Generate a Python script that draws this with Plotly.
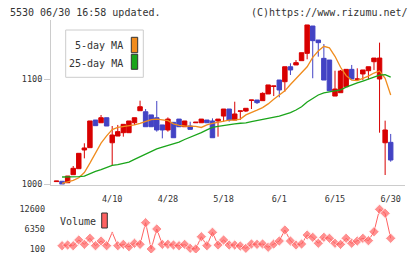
import plotly.graph_objects as go

# ---------------- data ----------------
idx = list(range(61))
tick_idx = [10, 20, 30, 40, 50, 60]
tick_labels = ["4/10", "4/28", "5/18", "6/1", "6/15", "6/30"]

opens = [1002.3, 1002.6, 1001.2, 1008.9, 1014.6, 1032.5, 1034.7, 1061.1, 1058.5, 1063.3,
         1039.4, 1045.8, 1049.0, 1049.0, 1058.5, 1070.0, 1069.0, 1066.0, 1063.3, 1056.4,
         1051.6, 1058.9, 1062.0, 1054.7, 1055.4, 1058.5, 1058.5, 1061.1, 1060.2, 1060.2,
         1064.9, 1071.6, 1061.1, 1069.4, 1069.7, 1079.8, 1080.2, 1079.6, 1086.0, 1093.2,
         1099.3, 1097.7, 1112.0, 1113.7, 1117.8, 1124.8, 1150.9, 1137.5, 1120.0, 1118.4,
         1084.0, 1087.2, 1092.9, 1109.5, 1099.9, 1105.1, 1108.2, 1116.8, 1100.3, 1039.4,
         1039.8]
highs = [1002.8, 1002.6, 1007.6, 1017.2, 1029.3, 1038.9, 1060.2, 1061.1, 1065.9, 1063.3,
         1055.4, 1056.4, 1057.0, 1060.2, 1063.3, 1079.6, 1071.6, 1066.0, 1079.3, 1056.4,
         1063.6, 1058.9, 1062.0, 1060.2, 1059.5, 1059.0, 1062.0, 1061.1, 1062.7, 1062.0,
         1071.6, 1071.6, 1078.6, 1069.8, 1072.3, 1080.2, 1080.2, 1087.5, 1094.6, 1093.6,
         1099.3, 1112.0, 1115.3, 1118.4, 1125.4, 1151.9, 1150.9, 1137.5, 1133.7, 1118.4,
         1108.2, 1108.9, 1109.5, 1113.7, 1110.5, 1108.9, 1112.0, 1120.3, 1135.0, 1060.5,
         1047.8]
lows = [1002.3, 999.7, 1001.2, 1008.9, 1014.6, 1024.5, 1034.7, 1055.7, 1058.5, 1055.4,
        1017.2, 1045.8, 1045.2, 1049.0, 1056.4, 1070.0, 1054.7, 1054.7, 1050.0, 1043.6,
        1050.0, 1044.2, 1054.7, 1054.7, 1052.2, 1058.5, 1058.5, 1058.5, 1044.2, 1045.2,
        1059.5, 1059.5, 1061.1, 1061.1, 1068.8, 1071.6, 1076.4, 1079.6, 1086.0, 1084.0,
        1082.8, 1088.2, 1104.1, 1113.7, 1117.8, 1119.1, 1101.0, 1121.6, 1099.3, 1089.1,
        1084.0, 1087.2, 1092.9, 1100.3, 1099.9, 1099.3, 1100.0, 1108.9, 1049.0, 1008.6,
        1021.3]
closes = [1002.8, 999.7, 1007.6, 1015.0, 1029.3, 1034.4, 1060.2, 1055.7, 1063.3, 1055.4,
          1046.8, 1050.0, 1057.0, 1060.2, 1063.3, 1073.8, 1054.7, 1054.7, 1051.6, 1051.6,
          1062.0, 1044.2, 1054.7, 1060.2, 1052.2, 1059.0, 1062.0, 1058.5, 1044.2, 1062.0,
          1071.6, 1061.1, 1066.9, 1069.8, 1072.3, 1080.2, 1077.7, 1086.6, 1094.6, 1093.6,
          1089.8, 1112.0, 1108.9, 1115.9, 1125.4, 1151.9, 1136.9, 1135.0, 1099.3, 1089.1,
          1090.7, 1107.9, 1109.5, 1100.3, 1100.3, 1108.9, 1112.0, 1120.3, 1120.3, 1051.6,
          1022.9]

ma5 = [None, 1000.5, 1002.0, 1003.5, 1006.0, 1011.0, 1020.0, 1030.0, 1039.0, 1046.0,
       1052.0, 1054.0, 1054.7, 1055.2, 1056.5, 1058.0, 1060.0, 1061.5, 1062.0, 1061.5,
       1060.5, 1057.5, 1056.0, 1055.4, 1055.4, 1055.0, 1054.0, 1056.4, 1058.0, 1059.0,
       1060.5, 1061.0, 1061.0, 1062.0, 1066.0, 1068.0, 1070.5, 1073.0, 1076.5, 1081.0,
       1085.0, 1089.0, 1095.0, 1100.5, 1105.5, 1112.0, 1121.0, 1127.0, 1131.5, 1130.0,
       1122.0, 1111.5, 1103.5, 1099.3, 1098.8, 1100.8, 1103.0, 1106.0, 1108.0, 1101.0,
       1085.0]
ma25 = [None, 1006.7, 1006.7, 1006.7, 1007.0, 1007.5, 1010.0, 1012.0, 1013.8, 1016.0,
        1017.8, 1018.6, 1019.6, 1021.0, 1023.5, 1026.0, 1028.8, 1031.3, 1033.5, 1035.2,
        1036.7, 1038.2, 1040.0, 1042.5, 1044.6, 1046.6, 1049.0, 1051.7, 1054.0, 1055.0,
        1056.0, 1057.0, 1057.5, 1058.0, 1058.3, 1059.5, 1060.5, 1061.3, 1062.5, 1063.6,
        1064.9, 1066.5, 1068.1, 1070.7, 1073.8, 1078.3, 1081.5, 1085.0, 1087.0, 1088.1,
        1089.0, 1090.0, 1092.6, 1094.8, 1096.5, 1098.3, 1100.3, 1102.2, 1104.0, 1104.4,
        1102.0]

volume = [None, 1140, 1360, 1140, 2930, 1560, 3470, 1140, 2620, 1140,
          5360, 1140, 1560, 820, 1900, 1560, 8380, 100, 6400, 1560,
          1560, 1360, 1140, 1560, 320, 100, 3970, 1140, 5360, 1360,
          2930, 1360, 1360, 1045, 320, 1670, 1560, 1670, 640, 1670,
          2620, 6080, 2620, 1360, 1670, 4510, 3780, 1900, 3780, 3470,
          1900, 1560, 3470, 1900, 2620, 3470, 2720, 5550, 12600, 11340,
          3470]
vol_ticks = [100, 6350, 12600]
vol_tick_labels = ["100", "6350", "12600"]
price_ticks = [1000, 1100]

# ---------------- styling ----------------
W, H = 420, 259
FONT = "DejaVu Sans Mono"
TXT = "#333333"
GRAY = "#cccccc"
RED = "#d80000"
BLUE = "#4343c4"
ORANGE = "#f08c1e"
GREEN = "#1aa51a"
VOLC = "#ff6262"


def px(x):
    return x / W


def py(y):
    return 1 - y / H


# pixel geometry
X0, X1 = 51, 405
C0, STEP = 56.5, 5.57
xr = [(X0 - C0) / STEP, (X1 - C0) / STEP]
MAIN_TOP, MAIN_BOT = 20, 184.5
PPY = 1.047  # pixels per yen
yr = [1000 - (MAIN_BOT - 184) / PPY, 1000 + (184 - MAIN_TOP) / PPY]
V_TOP, V_BOT = 203, 253
VPP = 39.7 / 12500
vr = [100 - (V_BOT - 249) / VPP, 100 + (249 - V_TOP) / VPP]

fig = go.Figure()

fig.add_trace(go.Candlestick(
    x=idx, open=opens, high=highs, low=lows, close=closes,
    increasing=dict(line=dict(color=RED, width=1), fillcolor=RED),
    decreasing=dict(line=dict(color=BLUE, width=1), fillcolor=BLUE),
    whiskerwidth=0, xaxis="x", yaxis="y", hoverinfo="skip"))

fig.add_trace(go.Scatter(x=idx, y=ma5, mode="lines",
                         line=dict(color=ORANGE, width=1.3), xaxis="x", yaxis="y",
                         hoverinfo="skip"))
fig.add_trace(go.Scatter(x=idx, y=ma25, mode="lines",
                         line=dict(color=GREEN, width=1.3), xaxis="x", yaxis="y",
                         hoverinfo="skip"))

vol_sizes = [2 if i == 10 else 8 for i in idx]
fig.add_trace(go.Scatter(x=idx, y=volume, mode="lines+markers",
                         line=dict(color=VOLC, width=1),
                         marker=dict(symbol="diamond", size=vol_sizes, color=VOLC),
                         xaxis="x2", yaxis="y2", hoverinfo="skip", connectgaps=False))

tickfont = dict(family=FONT, size=8.5, color=TXT)

fig.update_layout(
    width=W, height=H, autosize=False, margin=dict(l=0, r=0, t=0, b=0, pad=0),
    paper_bgcolor="white", plot_bgcolor="white", showlegend=False,
    boxgap=0.2, boxgroupgap=0,
    xaxis=dict(domain=[px(X0), px(X1)], range=xr, anchor="y",
               showline=True, linecolor=GRAY, linewidth=1, mirror=False,
               ticks="", tickvals=tick_idx, ticktext=tick_labels,
               tickfont=tickfont, showgrid=False, zeroline=False,
               rangeslider=dict(visible=False), ticklabelstandoff=6,
               automargin=False),
    xaxis3=dict(overlaying="x", range=[0, 11], tickvals=list(range(12)),
                ticks="outside", ticklen=4, tickcolor=GRAY, tickwidth=1,
                showticklabels=False, showgrid=False, zeroline=False,
                showline=False, anchor="y", side="bottom"),
    xaxis4=dict(overlaying="x", range=[0, 11], tickvals=list(range(12)),
                ticks="inside", ticklen=4, tickcolor=GRAY, tickwidth=1,
                showticklabels=False, showgrid=False, zeroline=False,
                showline=False, anchor="y", side="bottom"),
    yaxis=dict(domain=[py(MAIN_BOT), py(MAIN_TOP)], range=yr, anchor="x",
               showline=True, linecolor=GRAY, linewidth=1,
               ticks="outside", ticklen=6, tickcolor=GRAY,
               tickvals=price_ticks, tickfont=tickfont,
               showgrid=False, zeroline=False, automargin=False),
    xaxis2=dict(domain=[px(X0), px(X1)], range=xr, anchor="y2", visible=False),
    yaxis2=dict(domain=[py(V_BOT), py(V_TOP)], range=vr, anchor="x2",
                showline=False, ticks="", tickvals=vol_ticks,
                ticktext=vol_tick_labels,
                tickfont=tickfont, showgrid=False, zeroline=False,
                ticklabelstandoff=5, automargin=False),
)

shapes = []
annots = []
# header texts
annots.append(dict(x=px(8), y=py(12.7), xref="paper", yref="paper",
                   text="5530 06/30 16:58 updated.", showarrow=False,
                   xanchor="left", yanchor="middle",
                   font=dict(family=FONT, size=10, color=TXT)))
annots.append(dict(x=px(410), y=py(12.7), xref="paper", yref="paper",
                   text="(C)https://www.rizumu.net/", showarrow=False,
                   xanchor="right", yanchor="middle",
                   font=dict(family=FONT, size=10, color=TXT)))
# legend box
shapes.append(dict(type="rect", xref="paper", yref="paper",
                   x0=px(65.7), x1=px(143.3), y0=py(77.3), y1=py(30),
                   line=dict(color=GRAY, width=1), fillcolor="white", layer="above"))
for label, col, yc, y0, y1 in [("5-day MA", ORANGE, 46, 37.3, 52.7),
                               ("25-day MA", GREEN, 63.3, 54.3, 69.3)]:
    annots.append(dict(x=px(124.5), y=py(yc), xref="paper", yref="paper",
                       text=label, showarrow=False, xanchor="right", yanchor="middle",
                       font=dict(family=FONT, size=10, color=TXT)))
    shapes.append(dict(type="rect", xref="paper", yref="paper",
                       x0=px(131.3), x1=px(137.7), y0=py(y1), y1=py(y0),
                       line=dict(color="#333333", width=1), fillcolor=col, layer="above"))
# volume label
annots.append(dict(x=px(58), y=py(221.5), xref="paper", yref="paper",
                   text="Volume", showarrow=False, xanchor="left", yanchor="middle",
                   font=dict(family=FONT, size=10, color=TXT)))
shapes.append(dict(type="rect", xref="paper", yref="paper",
                   x0=px(101.7), x1=px(107.3), y0=py(228), y1=py(213),
                   line=dict(color="#333333", width=1), fillcolor=VOLC, layer="above"))

fig.update_layout(shapes=shapes, annotations=annots)
fig.write_html("out.html", config={"responsive": False})
